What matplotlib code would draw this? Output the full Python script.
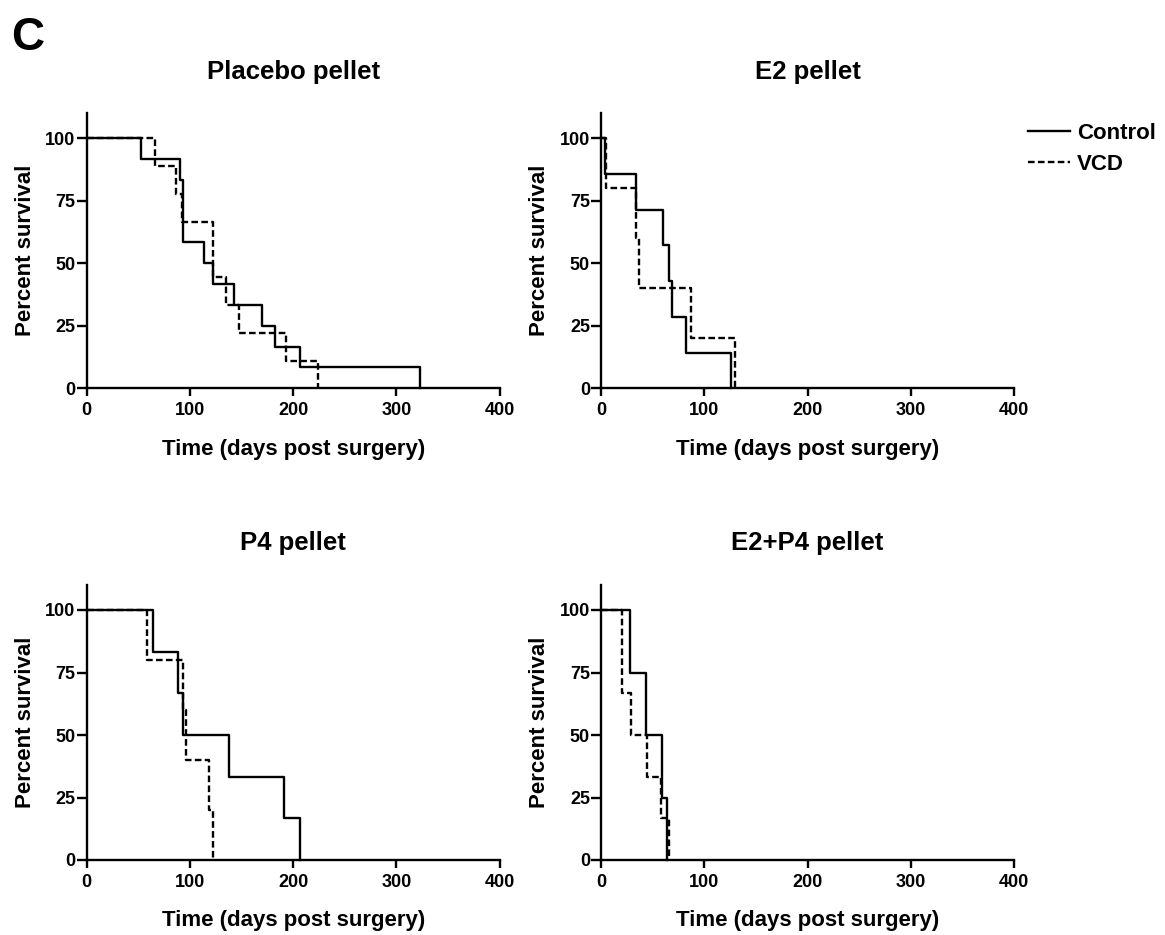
import matplotlib
matplotlib.use("Agg")
import matplotlib.pyplot as plt

plt.rcParams['font.family'] = ['Liberation Sans', 'DejaVu Sans']
plt.rcParams['font.weight'] = 'bold'

titles = ["Placebo pellet", "E2 pellet", "P4 pellet", "E2+P4 pellet"]
xticks = [0, 100, 200, 300, 400]
yticks = [0, 25, 50, 75, 100]

# Placebo pellet
placebo_ctrl_t = [0, 52.6, 90.3, 92.9, 113.9, 121.9, 142.9, 169.4, 181.9, 206.8, 323.2]
placebo_ctrl_s = [100, 91.67, 83.33, 58.33, 50.0, 41.67, 33.33, 25.0, 16.67, 8.33, 0]
placebo_vcd_t = [0, 65.8, 86.1, 91.9, 122.6, 134.5, 147.7, 192.6, 224.5]
placebo_vcd_s = [100, 88.89, 77.78, 66.67, 44.44, 33.33, 22.22, 11.11, 0]

# E2 pellet
e2_ctrl_t = [0, 3.9, 34.3, 59.9, 65.7, 68.9, 82.8, 125.6]
e2_ctrl_s = [100, 85.71, 71.43, 57.14, 42.86, 28.57, 14.29, 0]
e2_vcd_t = [0, 4.5, 34.3, 37.0, 87.4, 130.0]
e2_vcd_s = [100, 80, 60, 40, 20, 0]

# P4 pellet
p4_ctrl_t = [0, 63.9, 88.1, 93.5, 137.7, 191.0, 206.5]
p4_ctrl_s = [100, 83.33, 66.67, 50.0, 33.33, 16.67, 0]
p4_vcd_t = [0, 58.0, 92.9, 96.0, 118.7, 122.0]
p4_vcd_s = [100, 80, 60, 40, 20, 0]

# E2+P4 pellet
e2p4_ctrl_t = [0, 28.2, 43.4, 59.2, 64.1]
e2p4_ctrl_s = [100, 75, 50, 25, 0]
e2p4_vcd_t = [0, 20.7, 28.8, 44.3, 58.3, 65.7]
e2p4_vcd_s = [100, 66.67, 50.0, 33.33, 16.67, 0]

data = [
    (placebo_ctrl_t, placebo_ctrl_s, placebo_vcd_t, placebo_vcd_s),
    (e2_ctrl_t, e2_ctrl_s, e2_vcd_t, e2_vcd_s),
    (p4_ctrl_t, p4_ctrl_s, p4_vcd_t, p4_vcd_s),
    (e2p4_ctrl_t, e2p4_ctrl_s, e2p4_vcd_t, e2p4_vcd_s),
]

W, H = 1165, 935
fig = plt.figure(figsize=(W / 100, H / 100), dpi=100)

lefts = [86.7, 601, 86.7, 601]
bottoms = [388.3, 388.3, 860, 860]
aw = 413
ah = 275

LW = 1.7
dash = (0, (2.8, 1.4))

handles = None
for i in range(4):
    ax = fig.add_axes([lefts[i] / W, (H - bottoms[i]) / H, aw / W, ah / H])
    ct, cs, vt, vs = data[i]
    l1, = ax.step(ct, cs, where='post', color='black', lw=LW, clip_on=False, label='Control')
    l2, = ax.step(vt, vs, where='post', color='black', lw=LW, ls=dash, clip_on=False, label='VCD')
    if i == 1:
        handles = [l1, l2]
    ax.set_xlim(0, 400)
    ax.set_ylim(0, 110)
    ax.set_xticks(xticks)
    ax.set_yticks(yticks)
    ax.spines['top'].set_visible(False)
    ax.spines['right'].set_visible(False)
    for s in ['left', 'bottom']:
        ax.spines[s].set_linewidth(LW)
    ax.tick_params(axis='x', direction='out', length=6, width=LW, labelsize=13, pad=4)
    ax.tick_params(axis='y', direction='out', length=7, width=LW, labelsize=13, pad=1)
    for lab in ax.get_xticklabels() + ax.get_yticklabels():
        lab.set_fontweight('bold')
    ax.set_xlabel("Time (days post surgery)", fontsize=16, fontweight='bold', labelpad=14)
    ax.set_ylabel("Percent survival", fontsize=16, fontweight='bold', labelpad=7)
    ax.set_title(titles[i], fontsize=18.5, fontweight='bold', pad=25)

fig.legend(handles=handles, labels=['Control', 'VCD'], loc='center left',
           bbox_to_anchor=(1028 / W, 1 - 149 / H), frameon=False,
           borderpad=0, borderaxespad=0,
           prop={'size': 16, 'weight': 'bold'}, handlelength=1.9, handletextpad=0.3,
           labelspacing=0.45)

fig.text(11 / W, 1 - 50 / H, "C", fontsize=33, fontweight='bold', va='baseline', ha='left')

fig.savefig("out.png", dpi=100)
